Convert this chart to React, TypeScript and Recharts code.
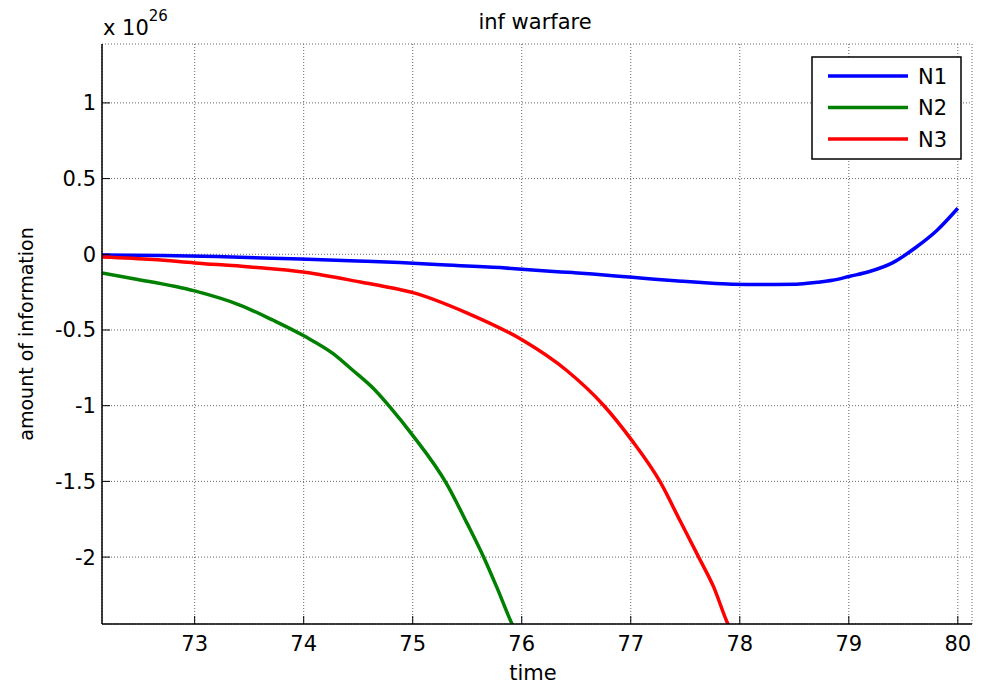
import React from "react";
import { LineChart, Line, XAxis, YAxis, CartesianGrid } from "recharts";

// Time samples and values (in units of 1e26) for each series
const n1Time = [72.15, 72.7, 73.2, 73.97, 74.49, 74.88, 75.22, 75.8, 76.0, 76.26, 76.47, 76.65, 76.86, 77.04, 77.22, 77.43, 77.65, 77.93, 78.2, 78.52, 78.71, 78.85, 79.01, 79.19, 79.4, 79.62, 79.81, 80.0];
const n1Values = [-0.005, -0.008, -0.015, -0.031, -0.044, -0.055, -0.068, -0.088, -0.099, -0.112, -0.121, -0.13, -0.143, -0.154, -0.165, -0.176, -0.187, -0.198, -0.2, -0.198, -0.185, -0.172, -0.145, -0.114, -0.057, 0.048, 0.159, 0.304];

const n2Time = [72.15, 72.44, 73.0, 73.42, 73.72, 74.01, 74.27, 74.45, 74.64, 74.79, 75.0, 75.31, 75.5, 75.65, 75.77, 75.91, 75.93];
const n2Values = [-0.123, -0.161, -0.242, -0.337, -0.436, -0.542, -0.656, -0.766, -0.887, -1.008, -1.196, -1.515, -1.779, -1.999, -2.197, -2.44, -2.47];

const n3Time = [72.15, 72.62, 73.0, 73.51, 74.01, 74.52, 74.88, 75.0, 75.5, 76.01, 76.41, 76.75, 77.01, 77.27, 77.45, 77.63, 77.76, 77.89, 77.91];
const n3Values = [-0.018, -0.035, -0.057, -0.084, -0.119, -0.183, -0.233, -0.253, -0.388, -0.568, -0.766, -0.997, -1.229, -1.504, -1.757, -2.01, -2.197, -2.44, -2.47];

const xTicks = [73, 74, 75, 76, 77, 78, 79, 80];
const yTicks = [-2, -1.5, -1, -0.5, 0, 0.5, 1];
const xDomain = [72.15, 80.13];
const yDomain = [-2.442, 1.389];

const toRows = (ts: number[], vs: number[]) => ts.map((t, i) => ({ t, v: vs[i] }));

const series = [
  { name: "N1", color: "#0000ff", data: toRows(n1Time, n1Values) },
  { name: "N2", color: "#008000", data: toRows(n2Time, n2Values) },
  { name: "N3", color: "#ff0000", data: toRows(n3Time, n3Values) },
];

const FONT = "DejaVu Sans";
const TICK_LEN = 8;

const BottomTick = (props: any) => {
  const { x, y, payload } = props;
  return (
    <g>
      <line x1={x} y1={y} x2={x} y2={y - TICK_LEN} stroke="#000" />
      <text x={x} y={y + 27} textAnchor="middle" fontSize={21} fontFamily={FONT} fill="#000">
        {payload.value}
      </text>
    </g>
  );
};

const TopTick = (props: any) => {
  const { x, y } = props;
  return <line x1={x} y1={y} x2={x} y2={y + TICK_LEN} stroke="#000" />;
};

const LeftTick = (props: any) => {
  const { x, y, payload } = props;
  return (
    <g>
      <line x1={x} y1={y} x2={x + TICK_LEN} y2={y} stroke="#000" />
      <text x={x - 6} y={y + 7.5} textAnchor="end" fontSize={21} fontFamily={FONT} fill="#000">
        {String(payload.value)}
      </text>
    </g>
  );
};

const RightTick = (props: any) => {
  const { x, y } = props;
  return <line x1={x} y1={y} x2={x - TICK_LEN} y2={y} stroke="#000" />;
};

export default function App() {
  return (
    <div style={{ position: "absolute", left: 0, top: 0, width: 981, height: 684, background: "#fff" }}>
      <LineChart
        width={981}
        height={684}
        margin={{ top: 44, right: 9, left: 0, bottom: 0 }}
        style={{ fontFamily: FONT }}
      >
        <CartesianGrid stroke="#666" strokeDasharray="1 2" />
        <XAxis
          dataKey="t"
          type="number"
          domain={xDomain}
          ticks={xTicks}
          allowDataOverflow
          height={60}
          tickSize={0}
          tickMargin={0}
          tick={<BottomTick />}
          axisLine={{ stroke: "#000", strokeWidth: 1.5 }}
          tickLine={false}
        />
        <XAxis
          xAxisId="top"
          orientation="top"
          dataKey="t"
          type="number"
          domain={xDomain}
          ticks={xTicks}
          allowDataOverflow
          height={0}
          tickSize={0}
          tickMargin={0}
          tick={<TopTick />}
          axisLine={{ stroke: "#000", strokeWidth: 1.5 }}
          tickLine={false}
        />
        <YAxis
          type="number"
          domain={yDomain}
          ticks={yTicks}
          allowDataOverflow
          width={102}
          tickSize={0}
          tickMargin={0}
          tick={<LeftTick />}
          axisLine={{ stroke: "#000", strokeWidth: 1.5 }}
          tickLine={false}
        />
        <YAxis
          yAxisId="right"
          orientation="right"
          type="number"
          domain={yDomain}
          ticks={yTicks}
          allowDataOverflow
          width={0}
          tickSize={0}
          tickMargin={0}
          tick={<RightTick />}
          axisLine={{ stroke: "#000", strokeWidth: 1.5 }}
          tickLine={false}
        />
        {series.map((s) => (
          <Line
            key={s.name}
            data={s.data}
            dataKey="v"
            name={s.name}
            type="monotone"
            stroke={s.color}
            strokeWidth={3.5}
            dot={false}
            activeDot={false}
            isAnimationActive={false}
          />
        ))}
      </LineChart>
      <svg
        width={981}
        height={684}
        style={{ position: "absolute", left: 0, top: 0, pointerEvents: "none" }}
        fontFamily={FONT}
      >
        <text x={535} y={29} textAnchor="middle" fontSize={21} fill="#000">inf warfare</text>
        <text x={103} y={35} fontSize={21} fill="#000">
          x 10
          <tspan fontSize={15} dy={-14}>26</tspan>
        </text>
        <text x={533} y={680} textAnchor="middle" fontSize={21} fill="#000">time</text>
        <text transform="translate(33,334) rotate(-90)" textAnchor="middle" fontSize={19} fill="#000">
          amount of information
        </text>
        <g>
          <rect x={812} y={57} width={149} height={102} fill="#fff" stroke="#000" strokeWidth={1.5} />
          {series.map((s, i) => {
            const ly = 76 + i * 31.5;
            return (
              <g key={s.name}>
                <line x1={828} y1={ly} x2={908} y2={ly} stroke={s.color} strokeWidth={3.5} />
                <text x={918} y={ly + 7.5} fontSize={21} fill="#000">{s.name}</text>
              </g>
            );
          })}
        </g>
      </svg>
    </div>
  );
}
